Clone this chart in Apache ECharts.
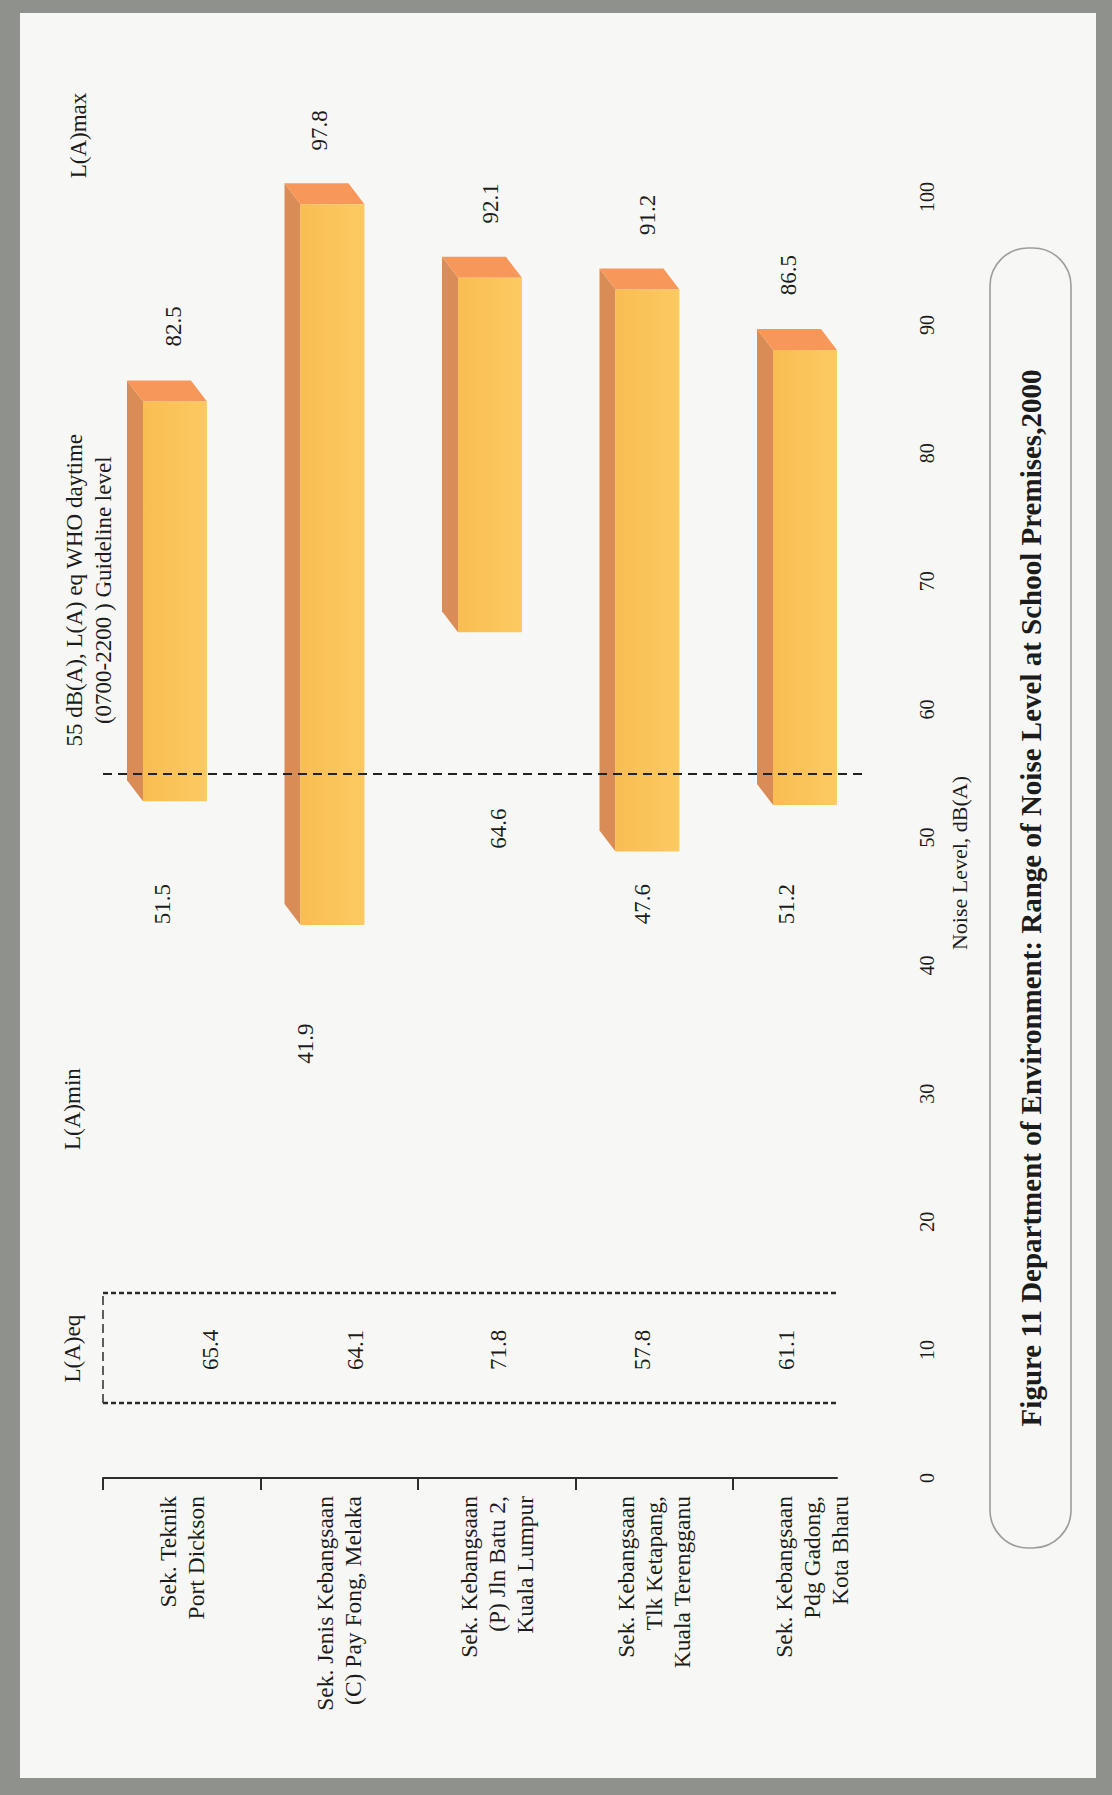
<!DOCTYPE html>
<html>
<head>
<meta charset="utf-8">
<script src="https://cdn.jsdelivr.net/npm/echarts@6/dist/echarts.min.js"></script>
<style>
html, body { margin: 0; padding: 0; background: #8e918c; }
#panel { position: absolute; left: 20px; top: 13px; width: 1076px; height: 1765px; background: #f7f8f5; }
#chart { position: absolute; left: 0; top: 0; width: 1112px; height: 1795px; }
</style>
</head>
<body>
<div id="panel"></div>
<div id="chart"></div>
<script>
// ---------------- data ----------------
const categories = [
  'Sek. Teknik\nPort Dickson',
  'Sek. Jenis Kebangsaan\n(C) Pay Fong, Melaka',
  'Sek. Kebangsaan\n(P) Jln Batu 2,\nKuala Lumpur',
  'Sek. Kebangsaan\nTlk Ketapang,\nKuala Terengganu',
  'Sek. Kebangsaan\nPdg Gadong,\nKota Bharu'
];
const laMin = [51.5, 41.9, 64.6, 47.6, 51.2];
const laMax = [82.5, 97.8, 92.1, 91.2, 86.5];
const laEq  = [65.4, 64.1, 71.8, 57.8, 61.1];
const whoGuideline = 55;
const valueAxisMin = 0, valueAxisMax = 100, valueAxisStep = 10;

const headerLabels = ['L(A)max', 'L(A)min', 'L(A)eq'];
const guidelineText = '55 dB(A), L(A) eq WHO daytime\n(0700-2200 ) Guideline level';
const axisTitle = 'Noise Level, dB(A)';
const chartTitle = 'Figure 11 Department of Environment: Range of Noise Level at School Premises,2000';

// ---------------- layout / style (not data) ----------------
const FONT = '"Liberation Serif", "Times New Roman", serif';
const INK = '#1c1c1c';
const FRONT_COLORS = ['#f9bd52', '#fcca62'];
const SIDE_COLOR = '#d98c55';
const TOP_COLOR = '#f7975a';
const MAX_LABEL_GAP = 7.4;                            // axis units above the max
const MIN_LABEL_AT = [44.8, 33.9, 50.7, 44.8, 44.8];  // axis units
const EQ_LABEL_AT = 10.0;
const MAX_DX = [-8, -20, -6, -7, -23];
const MIN_DX = [-19, -34, 2, -12, -25];
const EQ_DX  = [29, 16, 2, -12, -25];

const chart = echarts.init(document.getElementById('chart'), null, { renderer: 'svg' });

function textEl(txt, x, y, size, extra) {
  return {
    type: 'text', x: x, y: y, rotation: Math.PI / 2,
    style: Object.assign({
      text: txt, fontSize: size, fontFamily: FONT, fill: INK,
      textAlign: 'center', textVerticalAlign: 'middle'
    }, extra || {})
  };
}

function renderColumn(params, api) {
  const i = api.value(0);
  const lo = api.value(1), hi = api.value(2), eq = api.value(3);
  const band = api.size([1, 0])[0];
  const cTop = api.coord([i, hi]);
  const cBot = api.coord([i, lo]);
  const w = band * 0.406;
  const x0 = cTop[0] - band * 0.246;
  const yT = cTop[1] - (13 + 0.08 * hi);
  const yB = cBot[1] - (13 + 0.08 * lo);
  const dx = -16, dy = -21;
  const maxPos = api.coord([i, hi + MAX_LABEL_GAP]);
  const minPos = api.coord([i, MIN_LABEL_AT[i]]);
  const eqPos = api.coord([i, EQ_LABEL_AT]);
  return {
    type: 'group',
    children: [
      { type: 'polygon', shape: { points: [[x0, yT], [x0 + dx, yT + dy], [x0 + dx, yB + dy], [x0, yB]] },
        style: { fill: SIDE_COLOR } },
      { type: 'polygon', shape: { points: [[x0, yT], [x0 + w, yT], [x0 + w + dx, yT + dy], [x0 + dx, yT + dy]] },
        style: { fill: TOP_COLOR } },
      { type: 'rect', shape: { x: x0, y: yT, width: w, height: yB - yT },
        style: { fill: new echarts.graphic.LinearGradient(0, 0, 1, 0, [
          { offset: 0, color: FRONT_COLORS[0] }, { offset: 1, color: FRONT_COLORS[1] }]) } },
      textEl(hi.toFixed(1), maxPos[0] + MAX_DX[i], maxPos[1], 23),
      textEl(lo.toFixed(1), minPos[0] + MIN_DX[i], minPos[1], 23),
      textEl(eq.toFixed(1), eqPos[0] + EQ_DX[i], eqPos[1], 23)
    ]
  };
}

const dash = { color: '#2a2a2a', width: 2.4, type: [5, 3] };

const option = {
  animation: false,
  backgroundColor: 'transparent',
  grid: { left: 103, top: 197, width: 787.5, height: 1281, containLabel: false },
  xAxis: [
    {
      type: 'category', data: categories, boundaryGap: true, position: 'bottom',
      axisLine: { show: true, onZero: false, lineStyle: { color: '#2e2e2e', width: 2, type: [734, 5000] } },
      axisTick: { show: false },
      splitLine: { show: false },
      axisLabel: { interval: 0, rotate: 90, margin: 18, fontSize: 23.5, lineHeight: 28,
                   fontFamily: FONT, color: INK }
    },
    {
      type: 'value', min: 0, max: 5, position: 'bottom',
      axisLine: { show: false, onZero: false },
      axisLabel: { show: false },
      splitLine: { show: false },
      axisTick: { show: true, length: 12, customValues: [0, 1, 2, 3, 4],
                  lineStyle: { color: '#2e2e2e', width: 2 } }
    }
  ],
  yAxis: {
    type: 'value', min: valueAxisMin, max: valueAxisMax, interval: valueAxisStep, position: 'right',
    axisLine: { show: false }, axisTick: { show: false }, splitLine: { show: false },
    axisLabel: { rotate: 90, margin: 26, fontSize: 20, fontFamily: FONT, color: INK },
    name: axisTitle, nameLocation: 'middle', nameGap: 58, nameRotate: 90,
    nameTextStyle: { fontSize: 22, fontFamily: FONT, color: INK, padding: [0, 51, 0, 0] }
  },
  series: [
    {
      type: 'custom', xAxisIndex: 0, yAxisIndex: 0, clip: false, z: 2,
      renderItem: renderColumn,
      encode: { x: 0, y: [1, 2] },
      data: categories.map((c, i) => [i, laMin[i], laMax[i], laEq[i]])
    },
    {
      type: 'line', xAxisIndex: 1, yAxisIndex: 0, data: [], z: 5, silent: true,
      markLine: {
        silent: true, symbol: ['none', 'none'], label: { show: false },
        emphasis: { disabled: true },
        data: [
          [{ coord: [0, whoGuideline], lineStyle: { color: '#222', width: 2, type: [9, 6] } },
           { coord: [4.82, whoGuideline] }],
          [{ coord: [0, 14.44], lineStyle: dash }, { coord: [4.66, 14.44] }],
          [{ coord: [0, 5.85], lineStyle: dash }, { coord: [4.66, 5.85] }],
          [{ coord: [0, 5.85], lineStyle: { color: '#2a2a2a', width: 1.5, type: [9, 5] } },
           { coord: [0, 14.44] }]
        ]
      }
    }
  ]
};

chart.setOption(option);

const py = v => chart.convertToPixel({ yAxisIndex: 0 }, v);
chart.setOption({
  graphic: [
    textEl(headerLabels[0], 78, py(104.8), 23),
    textEl(headerLabels[1], 72, py(28.8), 23),
    textEl(headerLabels[2], 72, py(10.1), 23),
    textEl(guidelineText, 89, py(69.3), 23, { lineHeight: 29 }),
    { type: 'rect', shape: { x: 990, y: 248, width: 81, height: 1300, r: 38 },
      style: { fill: 'none', stroke: '#9c9c9c', lineWidth: 1.6 } },
    textEl(chartTitle, 1031, 898, 29, { fontWeight: 'bold' })
  ]
});
</script>
</body>
</html>
